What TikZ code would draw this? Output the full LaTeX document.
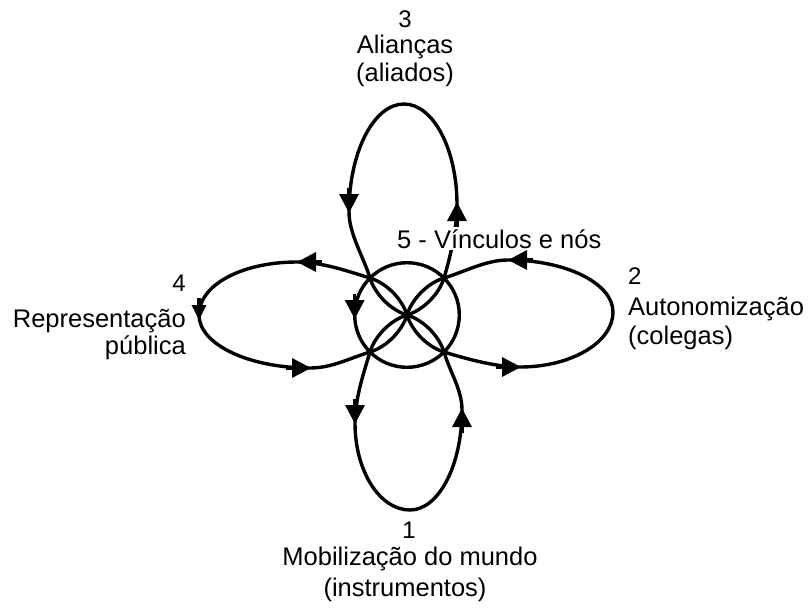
\documentclass[tikz,border=0pt]{standalone}
\usepackage{fontspec}
\setmainfont{Liberation Sans}
\usetikzlibrary{arrows.meta}
\begin{document}
\begin{tikzpicture}[x=1pt,y=-1pt,
  loopline/.style={line width=3.4pt, line join=round, line cap=round},
  tipA/.style={line width=3.4pt, -{Triangle[length=19pt,width=19pt]}},
  tipS/.style={line width=3.4pt, -{Triangle[length=15pt,width=14pt]}},
  lbl/.style={font=\fontsize{25.5}{28}\selectfont, inner sep=0pt},
  num/.style={font=\fontsize{24}{26}\selectfont, inner sep=0pt}]
\useasboundingbox (0,0) rectangle (810,608);
\fill[white] (0,0) rectangle (810,608);
\coordinate (C) at (407,315);
\coordinate (UL) at (370,278);
\coordinate (UR) at (444,278);
\coordinate (LL) at (370,352);
\coordinate (LR) at (444,352);
% top loop (3)
\draw[loopline] (C) .. controls (423.3,310.0) and (439.0,294.3) .. (UR)
  .. controls (450.4,257.0) and (457,227) .. (457,205)
  .. controls (457,149.2) and (433.3,104) .. (404,104)
  .. controls (373.6,104) and (349,152.4) .. (349,212)
  .. controls (349,234) and (363.6,257.0) .. (UL)
  .. controls (375.0,294.3) and (390.7,310.0) .. (C);
% right loop (2)
\draw[loopline] (C) .. controls (412.0,331.3) and (427.7,347.0) .. (LR)
  .. controls (465.0,358.4) and (495,367) .. (520,367)
  .. controls (571.3,367) and (613,342.4) .. (613,312)
  .. controls (613,283.3) and (566,260) .. (508,260)
  .. controls (486,260) and (465.0,271.6) .. (UR)
  .. controls (427.7,283.0) and (412.0,298.7) .. (C);
% bottom loop (1)
\draw[loopline] (C) .. controls (390.7,320.0) and (375.0,335.7) .. (LL)
  .. controls (363.6,373.0) and (355,399) .. (355,423)
  .. controls (355,471) and (379.6,510) .. (410,510)
  .. controls (438.7,510) and (462,465) .. (462,410)
  .. controls (462,390) and (450.4,373.0) .. (LR)
  .. controls (439.0,335.7) and (423.3,320.0) .. (C);
% left loop (4)
\draw[loopline] (C) .. controls (402.0,298.7) and (386.3,283.0) .. (UL)
  .. controls (349.0,271.6) and (322,262) .. (297,262)
  .. controls (242.9,262) and (199,284.4) .. (199,315)
  .. controls (199,344.3) and (248.7,368) .. (310,368)
  .. controls (332,368) and (349.0,358.4) .. (LL)
  .. controls (386.3,347.0) and (402.0,331.3) .. (C);
% central circle (5)
\draw[loopline] (C) circle[radius=52.3];
% arrowheads
\draw[tipA] (349,188) -- (349,213);
\draw[tipA] (457,228) -- (457,202);
\draw[tipA] (533,260) -- (508,260);
\draw[tipA] (496,367) -- (521,367);
\draw[tipA] (355,399) -- (355,424);
\draw[tipA] (462,433) -- (462,408);
\draw[tipA] (322,262) -- (297,262);
\draw[tipA] (286,368) -- (311,368);
\draw[tipS] (199,298) -- (199,320);
\draw[tipA] (354.7,294) -- (354.7,319);
% labels
\node[num, anchor=base] (n3) at (405,27) {3};
\node[lbl, anchor=base] (a3) at (405,53) {Alianças};
\node[lbl, anchor=base] (b3) at (405,81) {(aliados)};
\node[num, anchor=base west] (n2) at (628,284) {2};
\node[lbl, anchor=base west] (a2) at (628,315) {Autonomização};
\node[lbl, anchor=base west] (b2) at (628,344) {(colegas)};
\node[num, anchor=base east] (n4) at (186,291) {4};
\node[lbl, anchor=base east] (a4) at (186,327) {Representação};
\node[lbl, anchor=base east] (b4) at (186,354) {pública};
\node[num, anchor=base] (n1) at (409,538) {1};
\node[lbl, anchor=base] (a1) at (410,565) {Mobilização do mundo};
\node[lbl, anchor=base] (b1) at (405,596) {(instrumentos)};
\node[lbl, anchor=base west, fill=white, inner sep=2pt] (n5) at (395,248) {5 - Vínculos e nós};
\end{tikzpicture}
\end{document}
